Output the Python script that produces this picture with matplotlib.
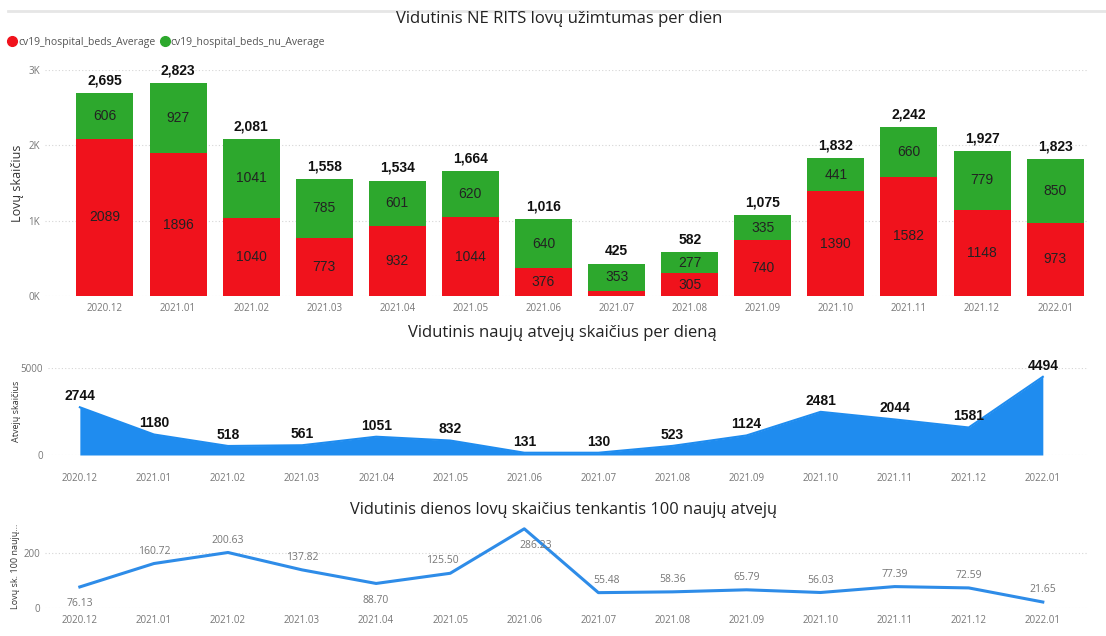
import numpy as np
import matplotlib.pyplot as plt
from matplotlib.lines import Line2D
from matplotlib.ticker import FuncFormatter

months = ['2020.12', '2021.01', '2021.02', '2021.03', '2021.04', '2021.05', '2021.06',
          '2021.07', '2021.08', '2021.09', '2021.10', '2021.11', '2021.12', '2022.01']

beds_red = [2089, 1896, 1040, 773, 932, 1044, 376, 72, 305, 740, 1390, 1582, 1148, 973]
beds_green = [606, 927, 1041, 785, 601, 620, 640, 353, 277, 335, 441, 660, 779, 850]
beds_total = [2695, 2823, 2081, 1558, 1534, 1664, 1016, 425, 582, 1075, 1832, 2242, 1927, 1823]

new_cases = [2744, 1180, 518, 561, 1051, 832, 131, 130, 523, 1124, 2481, 2044, 1581, 4494]

beds_per_100 = [76.13, 160.72, 200.63, 137.82, 88.70, 125.50, 286.23,
                55.48, 58.36, 65.79, 56.03, 77.39, 72.59, 21.65]

# label placement for the bottom chart (dx, dy in points)
label_offsets = [(0, -8), (0, 5), (0, 5), (0, 5), (0, -8), (-6, 5), (8, -8),
                 (6, 5), (0, 5), (0, 5), (0, 5), (0, 5), (0, 5), (0, 5)]

RED = '#F0121C'
GREEN = '#2DA82D'
BLUE = '#1F8CEF'
LINE_BLUE = '#2E8CE8'
TICK = '#777777'
GRID = '#D5D5D5'

plt.rcParams['font.family'] = ['Open Sans', 'DejaVu Sans']

W, H = 1106, 636
fig = plt.figure(figsize=(W / 100, H / 100), dpi=100)


def px_axes(left, top, right, bottom):
    return fig.add_axes([left / W, 1 - bottom / H, (right - left) / W, (bottom - top) / H])


def clean(ax):
    for s in ax.spines.values():
        s.set_visible(False)
    ax.tick_params(length=0, colors=TICK, labelsize=7)
    ax.yaxis.grid(True, color=GRID, linestyle=(0, (1, 2)), linewidth=0.8)
    ax.set_axisbelow(True)


x = np.arange(len(months))

# thin line on top
fig.add_artist(Line2D([8 / W, 1], [1 - 11 / H, 1 - 11 / H], color='#E6E6E6', linewidth=2))

# ---- top: stacked bars
ax1 = px_axes(45, 70, 1088, 296)
clean(ax1)
ax1.bar(x, beds_red, width=0.78, color=RED)
ax1.bar(x, beds_green, width=0.78, bottom=beds_red, color=GREEN)
ax1.set_xlim(-0.82, 13.45)
ax1.set_ylim(0, 3000)
ax1.set_yticks([0, 1000, 2000, 3000])
ax1.yaxis.set_major_formatter(FuncFormatter(lambda v, p: '%dK' % (v / 1000)))
ax1.set_xticks(x)
ax1.set_xticklabels(months)
ax1.tick_params(axis='x', pad=5)
ax1.set_ylabel('Lovų skaičius', fontsize=9, color='#333333')
ax1.yaxis.set_label_coords(-0.02, 0.5)
for i in x:
    r, g = beds_red[i], beds_green[i]
    if r > 150:
        ax1.text(i, r / 2, str(r), ha='center', va='center', fontsize=10,
                 family='Liberation Sans', color='#222222')
    ax1.text(i, r + g / 2, str(g), ha='center', va='center', fontsize=10,
             family='Liberation Sans', color='#222222')
    ax1.annotate('{:,}'.format(beds_total[i]), (i, r + g), xytext=(0, 4),
                 textcoords='offset points', ha='center', va='bottom',
                 fontsize=10, fontweight='bold', family='Liberation Sans',
                 color='#111111', annotation_clip=False)

fig.text(559 / W, 1 - 19 / H, 'Vidutinis NE RITS lovų užimtumas per dien',
         ha='center', va='center', fontsize=12, color='#222222')
handles = [Line2D([], [], marker='o', linestyle='', color=RED, markersize=7),
           Line2D([], [], marker='o', linestyle='', color=GREEN, markersize=7)]
fig.legend(handles, ['cv19_hospital_beds_Average', 'cv19_hospital_beds_nu_Average'],
           loc='center left', bbox_to_anchor=(2 / W, 1 - 42 / H), ncol=2,
           frameon=False, fontsize=7.5, handletextpad=0.05, columnspacing=0.4,
           borderpad=0, handlelength=1.0, labelcolor='#555555')

# ---- middle: area
ax2 = px_axes(48, 368, 1088, 455)
clean(ax2)
ax2.fill_between(x, new_cases, 0, color=BLUE, linewidth=0)
ax2.plot(x, new_cases, color=BLUE, linewidth=1.5)
ax2.set_xlim(-0.43, 13.61)
ax2.set_ylim(0, 5000)
ax2.set_yticks([0, 5000])
ax2.set_xticks(x)
ax2.set_xticklabels(months)
ax2.tick_params(axis='x', pad=13)
ax2.set_ylabel('Atvejų skaičius', fontsize=6.5, color='#333333')
ax2.yaxis.set_label_coords(-0.026, 0.5)
for i in x:
    ax2.annotate(str(new_cases[i]), (i, new_cases[i]), xytext=(0, 3),
                 textcoords='offset points', ha='center', va='bottom',
                 fontsize=10, fontweight='bold', family='Liberation Sans',
                 color='#111111', annotation_clip=False)
fig.text(562 / W, 1 - 333 / H, 'Vidutinis naujų atvejų skaičius per dieną',
         ha='center', va='center', fontsize=12, color='#222222')

# ---- bottom: line
ax3 = px_axes(45, 525, 1088, 608)
clean(ax3)
ax3.plot(x, beds_per_100, color=LINE_BLUE, linewidth=2.2)
ax3.set_xlim(-0.47, 13.61)
ax3.set_ylim(0, 300)
ax3.set_yticks([0, 200])
ax3.set_xticks(x)
ax3.set_xticklabels(months)
ax3.tick_params(axis='x', pad=5)
ax3.set_ylabel('Lovų sk. 100 naujų...', fontsize=6.5, color='#333333')
ax3.yaxis.set_label_coords(-0.024, 0.5)
for i in x:
    dx, dy = label_offsets[i]
    ax3.annotate('%.2f' % beds_per_100[i], (i, beds_per_100[i]), xytext=(dx, dy),
                 textcoords='offset points', ha='center',
                 va='top' if dy < 0 else 'bottom',
                 fontsize=7.5, color='#777777', annotation_clip=False)
fig.text(563 / W, 1 - 510 / H, 'Vidutinis dienos lovų skaičius tenkantis 100 naujų atvejų',
         ha='center', va='center', fontsize=11.8, color='#222222')

plt.savefig('out.png', dpi=100)
